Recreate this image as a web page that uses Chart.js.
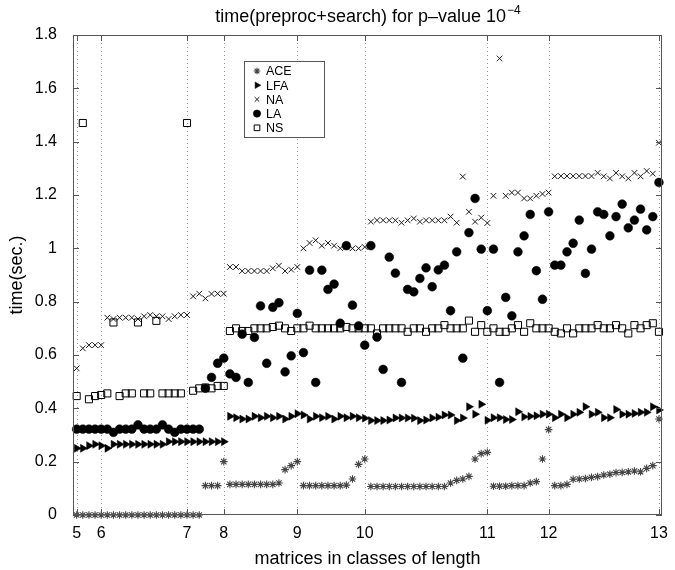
<!DOCTYPE html>
<html>
<head>
<meta charset="utf-8">
<script src="https://cdn.jsdelivr.net/npm/chart.js@4.4.0/dist/chart.umd.min.js"></script>
<style>
  html, body { margin: 0; padding: 0; background: #fff; }
</style>
</head>
<body>
<canvas id="myChart" width="675" height="570"></canvas>
<script>
// x = matrix index (0..95), ticks mark the classes of length
var classTickIndex = [0, 4, 18, 24, 36, 47, 67, 77, 95];
var classLabels = ['5', '6', '7', '8', '9', '10', '11', '12', '13'];

var aceValues = [
  0, 0, 0, 0, 0, 0, 0, 0, 0, 0, 0, 0, 0, 0, 0, 0, 0, 0, 0, 0, 0,
  0.11, 0.11, 0.11, 0.20,
  0.115, 0.115, 0.115, 0.115, 0.115, 0.115, 0.115, 0.115, 0.12, 0.17, 0.185, 0.20,
  0.11, 0.11, 0.11, 0.11, 0.11, 0.11, 0.11, 0.112, 0.135, 0.19, 0.21,
  0.107, 0.107, 0.107, 0.107, 0.107, 0.107, 0.107, 0.107, 0.107, 0.107, 0.107, 0.107, 0.107,
  0.12, 0.13, 0.135, 0.145, 0.21, 0.23, 0.235,
  0.108, 0.108, 0.108, 0.11, 0.11, 0.11, 0.12, 0.125, 0.21, 0.32,
  0.11, 0.11, 0.115, 0.134, 0.135, 0.137, 0.141, 0.144, 0.15, 0.153, 0.159, 0.16,
  0.162, 0.165, 0.162, 0.175, 0.185, 0.36
];

var lfaValues = [
  0.25, 0.25, 0.26, 0.265, 0.26, 0.25,
  0.265, 0.265, 0.265, 0.265, 0.265, 0.265, 0.265, 0.265, 0.265,
  0.275, 0.275, 0.275, 0.275, 0.275, 0.275, 0.275, 0.275, 0.275, 0.275,
  0.37, 0.365, 0.36, 0.36, 0.37, 0.365, 0.37, 0.365, 0.37, 0.36, 0.37, 0.38,
  0.375, 0.36, 0.37, 0.365, 0.37, 0.36, 0.37, 0.365, 0.37, 0.365,
  0.363, 0.354, 0.354, 0.354, 0.356, 0.364, 0.364, 0.364, 0.363, 0.354, 0.356,
  0.364, 0.367, 0.375, 0.375, 0.354, 0.364, 0.406, 0.378, 0.415, 0.355,
  0.365, 0.365, 0.358, 0.358, 0.387, 0.368, 0.37, 0.372,
  0.378, 0.378, 0.365, 0.378, 0.365, 0.378, 0.385, 0.406, 0.378, 0.385,
  0.365, 0.365, 0.396, 0.378, 0.378, 0.381, 0.385, 0.385, 0.406, 0.394
];

var naValues = [
  0.55, 0.625, 0.637, 0.637, 0.637,
  0.74, 0.735, 0.74, 0.74, 0.74, 0.735, 0.745, 0.75, 0.745, 0.745, 0.735, 0.745, 0.75, 0.75,
  0.82, 0.83, 0.812, 0.829, 0.83, 0.83,
  0.93, 0.93, 0.915, 0.915, 0.915, 0.915, 0.915, 0.925, 0.935, 0.915, 0.92, 0.93,
  1.0, 1.02, 1.03, 1.01, 1.02, 1.01, 1.0, 1.005, 1.0, 1.0, 1.005,
  1.1, 1.105, 1.105, 1.105, 1.105, 1.096, 1.105, 1.112, 1.1, 1.105, 1.105, 1.105, 1.105, 1.119, 1.096,
  1.269, 1.137, 1.1, 1.115, 1.095,
  1.197, 1.712, 1.197, 1.209, 1.209, 1.187, 1.187, 1.197, 1.204, 1.209,
  1.27, 1.271, 1.271, 1.271, 1.271, 1.271, 1.271, 1.283, 1.27, 1.262, 1.283, 1.27,
  1.262, 1.283, 1.27, 1.29, 1.28,
  1.396
];

var laValues = [
  0.322, 0.322, 0.322, 0.322, 0.322, 0.322, 0.31, 0.322, 0.322, 0.322, 0.338,
  0.322, 0.322, 0.322, 0.338, 0.322, 0.31, 0.322, 0.322, 0.322, 0.322,
  0.475, 0.516, 0.569, 0.588, 0.529, 0.516, 0.678, 0.497, 0.666, 0.784,
  0.569, 0.779, 0.796, 0.537, 0.597, 0.756, 0.609, 0.918, 0.497, 0.918,
  0.846, 0.866, 0.719, 1.01, 0.787, 0.709, 0.637, 1.01, 0.667, 0.546,
  0.967, 0.907, 0.497, 0.846, 0.837, 0.887, 0.927, 0.856, 0.919, 0.937,
  0.766, 0.987, 0.588, 1.059, 1.187, 0.997, 0.766, 0.997, 0.497, 0.816,
  0.747, 0.987, 1.047, 1.127, 0.916, 0.809, 1.137, 0.937, 0.937, 0.987,
  1.019, 1.106, 0.906, 0.997, 1.137, 1.127, 1.047, 1.119, 1.166, 1.077,
  1.106, 1.147, 1.069, 1.119, 1.247
];

var nsValues = [
  0.446, 1.47, 0.434, 0.446, 0.45, 0.456, 0.722, 0.446, 0.456, 0.456, 0.722,
  0.456, 0.456, 0.728, 0.456, 0.456, 0.456, 0.456, 1.47, 0.466, 0.475,
  0.478, 0.475, 0.484, 0.484,
  0.69, 0.70, 0.69, 0.69, 0.70, 0.70, 0.70, 0.705, 0.71, 0.70, 0.69, 0.70,
  0.70, 0.71, 0.70, 0.70, 0.70, 0.70, 0.70, 0.705, 0.70, 0.70, 0.70,
  0.70, 0.681, 0.70, 0.70, 0.70, 0.70, 0.687, 0.70, 0.70, 0.687, 0.70,
  0.70, 0.712, 0.70, 0.70, 0.70, 0.729, 0.687, 0.712, 0.687, 0.70,
  0.687, 0.687, 0.70, 0.712, 0.687, 0.719, 0.70, 0.70,
  0.70, 0.687, 0.681, 0.70, 0.681, 0.70, 0.70, 0.70, 0.712, 0.70,
  0.70, 0.712, 0.70, 0.681, 0.712, 0.70, 0.712, 0.719, 0.687
];

function toPoints(values) {
  return values.map(function (v, i) { return { x: i, y: v }; });
}

var fontName = '"Liberation Sans", Arial, Helvetica, sans-serif';

// draws the matlab-like box, dotted class lines, title and legend
var matlabAxes = {
  id: 'matlabAxes',
  beforeDatasetsDraw: function (chart) {
    var ctx = chart.ctx, a = chart.chartArea, xs = chart.scales.x;
    ctx.save();
    ctx.strokeStyle = '#9a9a9a';
    ctx.lineWidth = 1;
    ctx.setLineDash([1, 3]);
    classTickIndex.forEach(function (v) {
      var px = Math.round(xs.getPixelForValue(v)) + 0.5;
      ctx.beginPath();
      ctx.moveTo(px, a.top);
      ctx.lineTo(px, a.bottom);
      ctx.stroke();
    });
    ctx.restore();
  },
  afterDatasetsDraw: function (chart) {
    var ctx = chart.ctx, a = chart.chartArea, xs = chart.scales.x, ys = chart.scales.y;
    ctx.save();
    ctx.strokeStyle = '#555';
    ctx.lineWidth = 1;
    ctx.setLineDash([]);
    ctx.strokeRect(a.left + 0.5, a.top + 0.5, a.right - a.left - 1, a.bottom - a.top - 1);
    ctx.beginPath();
    classTickIndex.forEach(function (v) {
      var px = Math.round(xs.getPixelForValue(v)) + 0.5;
      ctx.moveTo(px, a.bottom); ctx.lineTo(px, a.bottom - 6);
      ctx.moveTo(px, a.top); ctx.lineTo(px, a.top + 6);
    });
    ys.ticks.forEach(function (t) {
      var py = Math.round(ys.getPixelForValue(t.value)) + 0.5;
      ctx.moveTo(a.left, py); ctx.lineTo(a.left + 6, py);
      ctx.moveTo(a.right, py); ctx.lineTo(a.right - 6, py);
    });
    ctx.stroke();
    ctx.restore();
  },
  afterDraw: function (chart) {
    var ctx = chart.ctx, a = chart.chartArea;
    ctx.save();
    // title with superscript exponent
    var main = 'time(preproc+search) for p\u2013value 10';
    var sup = '\u22124';
    ctx.fillStyle = '#000';
    ctx.textBaseline = 'alphabetic';
    ctx.font = '18px ' + fontName;
    var w1 = ctx.measureText(main).width;
    ctx.font = '12px ' + fontName;
    var w2 = ctx.measureText(sup).width;
    var x0 = (a.left + a.right) / 2 - (w1 + w2) / 2;
    ctx.textAlign = 'left';
    ctx.font = '18px ' + fontName;
    ctx.fillText(main, x0, 22);
    ctx.font = '12px ' + fontName;
    ctx.fillText(sup, x0 + w1 + 1, 14);

    // legend box
    var lx = 244, ly = 61, lw = 80, lh = 76;
    ctx.fillStyle = '#fff';
    ctx.fillRect(lx, ly, lw, lh);
    ctx.strokeStyle = '#555';
    ctx.lineWidth = 1;
    ctx.strokeRect(lx + 0.5, ly + 0.5, lw, lh);
    ctx.font = '12.5px ' + fontName;
    ctx.textBaseline = 'middle';
    chart.data.datasets.forEach(function (ds, k) {
      var cy = ly + 10 + k * 14.2;
      ctx.fillStyle = ds.backgroundColor;
      ctx.strokeStyle = ds.borderColor;
      ctx.lineWidth = ds.borderWidth;
      if (Chart.helpers && Chart.helpers.drawPoint) {
        Chart.helpers.drawPoint(ctx, {
          pointStyle: ds.pointStyle,
          rotation: ds.rotation || 0,
          radius: ds.legendRadius,
          borderWidth: ds.borderWidth
        }, lx + 13, cy);
      }
      ctx.fillStyle = '#000';
      ctx.fillText(ds.label, lx + 22, cy + 1);
    });
    ctx.restore();
  }
};

var ctx = document.getElementById('myChart').getContext('2d');
var myChart = new Chart(ctx, {
  type: 'scatter',
  data: {
    datasets: [
      {
        label: 'ACE', data: toPoints(aceValues), pointStyle: 'star',
        pointRadius: 3.8, borderColor: '#444', backgroundColor: '#444', borderWidth: 1.1,
        legendRadius: 3.3, order: 4, clip: 6
      },
      {
        label: 'LFA', data: toPoints(lfaValues), pointStyle: 'triangle', rotation: 90,
        pointRadius: 4.6, borderColor: '#000', backgroundColor: '#000', borderWidth: 0.5,
        legendRadius: 3.8, order: 3, clip: 6
      },
      {
        label: 'NA', data: toPoints(naValues), pointStyle: 'crossRot',
        pointRadius: 4, borderColor: '#1a1a1a', backgroundColor: '#1a1a1a', borderWidth: 1,
        legendRadius: 3.3, order: 2, clip: 6
      },
      {
        label: 'LA', data: toPoints(laValues), pointStyle: 'circle',
        pointRadius: 4.4, borderColor: '#000', backgroundColor: '#000', borderWidth: 0.5,
        legendRadius: 3.7, order: 1, clip: 6
      },
      {
        label: 'NS', data: toPoints(nsValues), pointStyle: 'rect',
        pointRadius: 5, borderColor: '#000', backgroundColor: 'rgba(0,0,0,0)', borderWidth: 1,
        legendRadius: 4, order: 0, clip: 6
      }
    ]
  },
  options: {
    responsive: false,
    animation: false,
    devicePixelRatio: 1,
    layout: { padding: { top: 35, right: 13, left: 0, bottom: 0 } },
    plugins: {
      legend: { display: false },
      title: { display: false },
      tooltip: { enabled: false }
    },
    elements: { point: { hoverRadius: 0 } },
    scales: {
      x: {
        type: 'linear',
        min: -0.6,
        max: 95.5,
        grid: { display: false },
        border: { display: false },
        afterBuildTicks: function (scale) {
          scale.ticks = classTickIndex.map(function (v) { return { value: v }; });
        },
        afterFit: function (scale) { scale.height = 55; },
        ticks: {
          autoSkip: false,
          maxRotation: 0,
          padding: 1,
          color: '#000',
          font: { family: fontName, size: 16 },
          callback: function (v, i) { return classLabels[i]; }
        },
        title: {
          display: true,
          text: 'matrices in classes of length',
          color: '#000',
          font: { family: fontName, size: 18 },
          padding: { top: 2, bottom: 0 }
        }
      },
      y: {
        min: 0,
        max: 1.8,
        grid: { display: false },
        border: { display: false },
        afterFit: function (scale) { scale.width = 73; },
        ticks: {
          stepSize: 0.2,
          padding: 8,
          color: '#000',
          font: { family: fontName, size: 16 },
          callback: function (v) { return String(+v.toFixed(1)); }
        },
        title: {
          display: true,
          text: 'time(sec.)',
          color: '#000',
          font: { family: fontName, size: 18 },
          padding: { top: 6, bottom: 0 }
        }
      }
    }
  },
  plugins: [matlabAxes]
});
</script>
</body>
</html>
